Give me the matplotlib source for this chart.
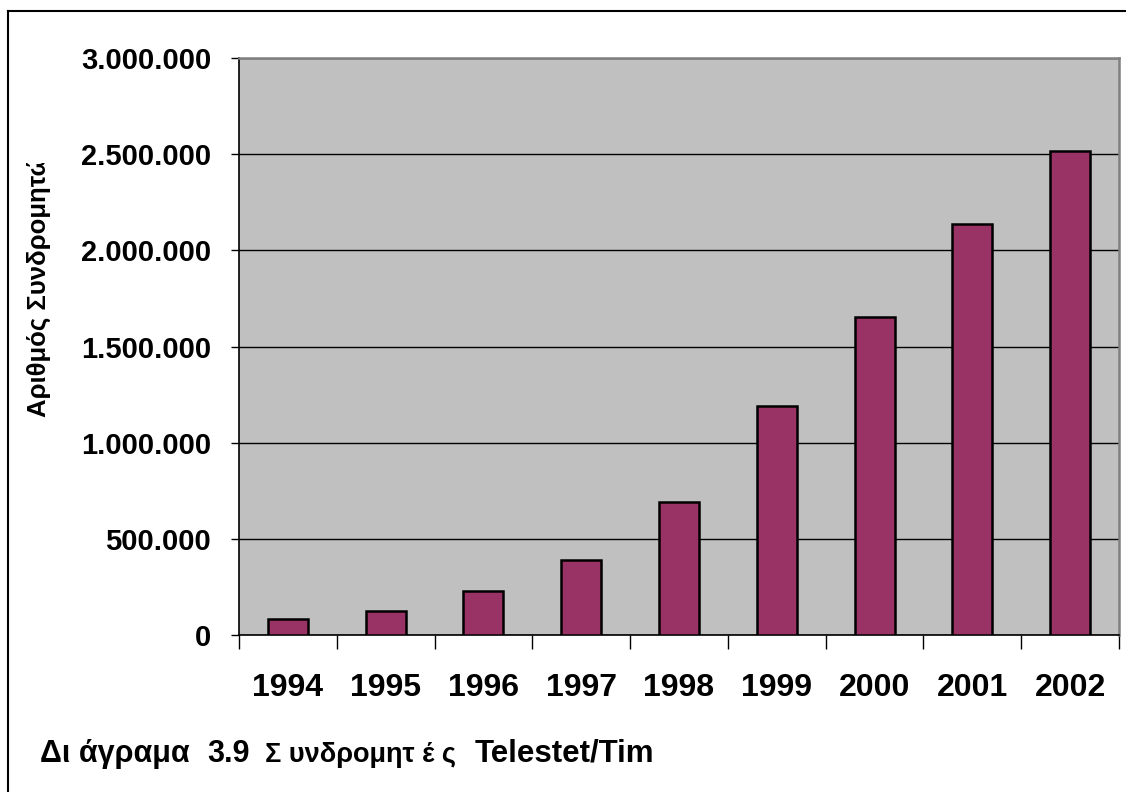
import matplotlib
matplotlib.use("Agg")
import matplotlib.pyplot as plt
from matplotlib.lines import Line2D
from matplotlib.transforms import Bbox, TransformedBbox
from matplotlib.ticker import FixedLocator, FuncFormatter

years = ["1994", "1995", "1996", "1997", "1998", "1999", "2000", "2001", "2002"]
subscribers = [83000, 125000, 229000, 390000, 690000, 1190000, 1655000, 2137000, 2517000]
y_ticks = [0, 500000, 1000000, 1500000, 2000000, 2500000, 3000000]
y_label = "Αριθμός Συνδρομητών"
caption_parts = ["Δι άγραμα", "3.9", "Σ υνδρομητ έ ς", "Telestet/Tim"]

plt.rcParams['font.family'] = ['Liberation Sans', 'DejaVu Sans']
plt.rcParams['font.weight'] = 'bold'

W, H = 1126, 792
fig = plt.figure(figsize=(W / 100, H / 100), dpi=100)
fig.patch.set_facecolor('white')

def px(x, y):
    return x / W, 1 - y / H

left, top = px(239, 58)
right, bottom = px(1119, 635)
ax = fig.add_axes([left, bottom, right - left, top - bottom])
ax.set_facecolor('#c0c0c0')

x = list(range(len(years)))
ax.bar(x, subscribers, width=0.41, color='#993366', edgecolor='black', linewidth=1.8, zorder=3)

ax.set_xlim(-0.5, len(years) - 0.5)
ax.set_ylim(0, 3000000)
ax.set_yticks(y_ticks)
ax.yaxis.set_major_formatter(FuncFormatter(lambda v, p: f"{int(v):,}".replace(",", ".")))
ax.grid(axis='y', color='black', linewidth=1.0, zorder=1)

ax.set_xticks(x)
ax.set_xticklabels(years)
ax.xaxis.set_minor_locator(FixedLocator([i - 0.5 for i in range(len(years) + 1)]))
ax.tick_params(axis='x', which='major', length=0, pad=27, labelsize=23)
ax.tick_params(axis='x', which='minor', length=10, width=1.0, color='black', direction='out')
ax.tick_params(axis='y', which='major', length=6, width=1.0, pad=14, labelsize=21)
for lab in ax.get_xticklabels() + ax.get_yticklabels():
    lab.set_fontweight('bold')

for s in ['left', 'bottom']:
    ax.spines[s].set_color('black')
    ax.spines[s].set_linewidth(1.2)
for s in ['top', 'right']:
    ax.spines[s].set_color('#808080')
    ax.spines[s].set_linewidth(1.8)

# outer border (top and left)
bx, by = px(8, 11)
fig.add_artist(Line2D([bx, 1.0], [by, by], color='black', linewidth=1.5, transform=fig.transFigure))
fig.add_artist(Line2D([bx, bx], [by, 0.0], color='black', linewidth=1.5, transform=fig.transFigure))

# y label, clipped as in the original
lx, ly = px(39, 417)
t = fig.text(lx, ly, y_label, rotation=90, rotation_mode='anchor', ha='left', va='center',
             fontsize=18.5, fontweight='bold')
clip_top = 1 - 163 / H
t.set_clip_box(TransformedBbox(Bbox([[0, 0], [1, clip_top]]), fig.transFigure))
t.set_clip_on(True)

# caption
cap_x = [40, 207, 265, 475]
cap_sizes = [22, 22, 19.5, 22.5]
for cx, txt, fs in zip(cap_x, caption_parts, cap_sizes):
    fx, fy = px(cx, 762)
    fig.text(fx, fy, txt, ha='left', va='baseline', fontsize=fs, fontweight='bold')

fig.savefig('out.png', dpi=100, facecolor='white')
